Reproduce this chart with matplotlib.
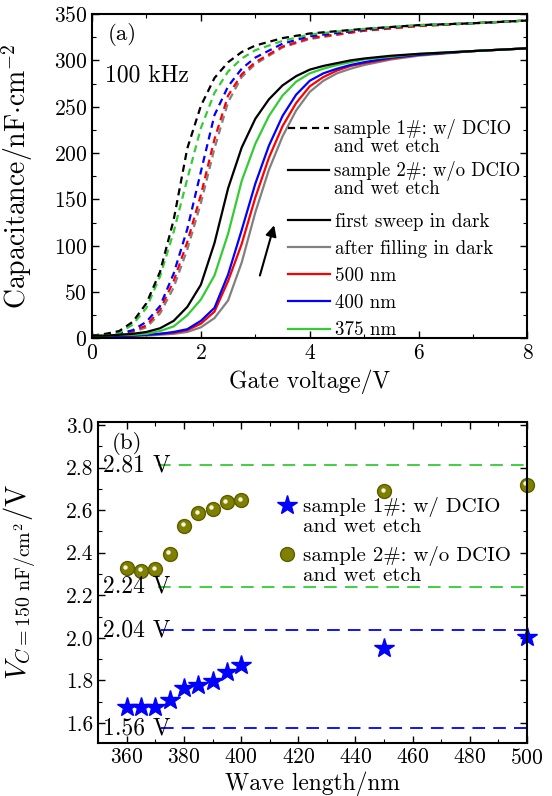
import matplotlib
matplotlib.use("Agg")
import matplotlib.pyplot as plt
import matplotlib.transforms as mtransforms
from matplotlib.lines import Line2D

plt.rcParams['font.family'] = ['cmr10', 'DejaVu Serif']
plt.rcParams['mathtext.fontset'] = 'cm'
plt.rcParams['axes.formatter.use_mathtext'] = True
plt.rcParams['axes.unicode_minus'] = False

# ---- panel (a): C-V curves at 100 kHz ----
v_dash = [0, 0.25, 0.5, 0.75, 1.0, 1.25, 1.5, 1.75, 2.0, 2.25, 2.5, 2.75, 3.0, 3.5, 4.0, 5.0, 6.0, 7.0, 8.0]
dark_d = [3, 5, 8, 18, 38, 72, 128, 205, 251, 281, 298, 309, 316, 324, 329, 334, 338, 340, 343]
nm375_d = [3, 4, 6, 15, 33, 67, 115, 172, 227, 265, 288, 302, 311, 321, 328, 334, 338, 340, 343]
nm400_d = [3, 4, 5, 9, 18, 35, 70, 118, 180, 241, 272, 291, 303, 318, 326, 333, 338, 340, 343]
nm500_d = [3, 4, 5, 8, 14, 31, 62, 104, 155, 215, 262, 285, 298, 315, 324, 332, 337, 340, 343]
fill_d = [3, 4, 5, 7, 12, 27, 55, 96, 146, 205, 255, 282, 296, 314, 323, 332, 337, 340, 343]

v_solid = [0, 0.25, 0.5, 0.75, 1.0, 1.25, 1.5, 1.75, 2.0, 2.25, 2.5, 2.75, 3.0, 3.25, 3.5,
           3.75, 4.0, 4.25, 4.5, 4.75, 5.0, 5.5, 6.0, 7.0, 8.0]
dark_s = [3, 3, 4, 5, 7, 11, 19, 34, 58, 103, 162, 206, 237, 258, 273,
          283, 290, 294, 297, 300, 302, 305, 307, 310, 313]
nm375_s = [3, 3, 4, 4, 5, 8, 13, 25, 42, 68, 113, 170, 210, 240, 262,
           277, 286, 291, 295, 298, 301, 304, 307, 310, 313]
nm400_s = [2, 2, 3, 3, 4, 5, 7, 10, 19, 33, 69, 117, 167, 208, 240,
           263, 278, 286, 291, 295, 298, 303, 306, 310, 313]
nm500_s = [2, 2, 3, 3, 4, 5, 6, 9, 16, 29, 62, 102, 152, 195, 229,
           254, 272, 282, 289, 294, 297, 302, 306, 310, 313]
fill_s = [2, 2, 2, 3, 3, 4, 5, 7, 12, 22, 41, 82, 136, 182, 218,
          246, 266, 278, 286, 291, 295, 301, 305, 310, 313]

# ---- panel (b): V at C = 150 nF/cm2 vs wavelength ----
wl = [360, 365, 370, 375, 380, 385, 390, 395, 400, 450, 500]
v_s1 = [1.677, 1.677, 1.677, 1.708, 1.763, 1.778, 1.799, 1.841, 1.872, 1.951, 2.002]
v_s2 = [2.328, 2.316, 2.322, 2.396, 2.527, 2.586, 2.607, 2.638, 2.646, 2.688, 2.719]
ref_green = [2.81, 2.24]
ref_blue = [2.035, 1.575]
ref_labels_green = ["2.81 V", "2.24 V"]
ref_labels_blue = ["2.04 V", "1.56 V"]

fig = plt.figure(figsize=(5.52, 7.96), dpi=100)
ax1 = fig.add_axes([0.1667, 0.5748, 0.7889, 0.4076])
ax2 = fig.add_axes([0.178, 0.067, 0.7767, 0.4032])

red = '#ff0000'
blue = '#0000ff'
green = '#33cc33'
gray = '#808080'
dash = (0, (3.2, 2.2))

ax1.plot(v_dash, fill_d, color=gray, lw=1.6, ls=dash)
ax1.plot(v_dash, nm500_d, color=red, lw=1.6, ls=dash)
ax1.plot(v_dash, nm400_d, color=blue, lw=1.6, ls=dash)
ax1.plot(v_dash, nm375_d, color=green, lw=1.6, ls=dash)
ax1.plot(v_dash, dark_d, color='black', lw=1.6, ls=dash)

l_fill, = ax1.plot(v_solid, fill_s, color=gray, lw=1.6)
l_500, = ax1.plot(v_solid, nm500_s, color=red, lw=1.6)
l_400, = ax1.plot(v_solid, nm400_s, color=blue, lw=1.6)
l_375, = ax1.plot(v_solid, nm375_s, color=green, lw=1.6)
l_dark, = ax1.plot(v_solid, dark_s, color='black', lw=1.6)

ax1.annotate('', xy=(3.36, 125), xytext=(3.07, 65),
             arrowprops=dict(arrowstyle='-|>', color='black', lw=1.5, mutation_scale=16))

ax1.set_xlim(0, 8)
ax1.set_ylim(0, 350)
ax1.set_xticks([0, 2, 4, 6, 8])
ax1.set_xticks([1, 3, 5, 7], minor=True)
ax1.set_yticks(range(0, 351, 50))
ax1.set_yticks(range(25, 350, 50), minor=True)
ax1.set_xlabel('Gate voltage/V', fontsize=17, labelpad=5)
ax1.set_ylabel(r'Capacitance/nF$\cdot$cm$^{-2}$', fontsize=20)
ax1.yaxis.set_label_coords(-0.131, 0.5)
ax1.text(0.037, 0.972, '(a)', transform=ax1.transAxes, fontsize=16.5, va='top')
ax1.text(0.03, 0.845, '100 kHz', transform=ax1.transAxes, fontsize=17, va='top')

blank = Line2D([], [], color='none')
leg_kw = dict(loc='upper left', frameon=False, borderpad=0, borderaxespad=0)
leg_a = ax1.legend([Line2D([], [], color='black', lw=1.6, ls=dash), blank],
                   ['sample 1#: w/ DCIO', 'and wet etch'], bbox_to_anchor=(0.45, 0.675),
                   fontsize=13.5, handlelength=2.2, handletextpad=0.26, labelspacing=-0.05, **leg_kw)
ax1.add_artist(leg_a)
leg_b = ax1.legend([Line2D([], [], color='black', lw=1.6), blank],
                   ['sample 2#: w/o DCIO', 'and wet etch'], bbox_to_anchor=(0.45, 0.546),
                   fontsize=13.5, handlelength=2.2, handletextpad=0.26, labelspacing=-0.05, **leg_kw)
ax1.add_artist(leg_b)
ax1.legend([l_dark, l_fill, l_500, l_400, l_375],
           ['first sweep in dark', 'after filling in dark', '500 nm', '400 nm', '375 nm'],
           bbox_to_anchor=(0.45, 0.387), fontsize=13.7,
           handlelength=2.2, handletextpad=0.26, labelspacing=0.48, **leg_kw)

# panel (b)
ax2.hlines(ref_green, 371, 500, colors=green, lw=1.3, linestyles=[(0, (7, 4.5))])
ax2.hlines(ref_blue, 372, 500, colors=blue, lw=1.3, linestyles=[(0, (7, 4.5))])
for y, s in zip(ref_green + ref_blue, ref_labels_green + ref_labels_blue):
    ax2.text(351.5, y, s, fontsize=17, va='center', ha='left')

stars, = ax2.plot(wl, v_s1, ls='none', marker='*', color=blue, markersize=15, clip_on=False)
balls, = ax2.plot(wl, v_s2, ls='none', marker='o', color='#808000', mec='#5c5c00',
                  markersize=10, clip_on=False)
shine = mtransforms.offset_copy(ax2.transData, fig=fig, x=-1.5, y=1.5, units='dots')
ax2.plot(wl, v_s2, ls='none', marker='o', color='#f4f4e0', markersize=3.2, mew=0,
         transform=shine, clip_on=False)

leg_d = ax2.legend([stars, blank], ['sample 1#: w/ DCIO', 'and wet etch'],
                   bbox_to_anchor=(0.415, 0.764), fontsize=15, handlelength=1.0,
                   handletextpad=0.3, labelspacing=0.0, **leg_kw)
ax2.add_artist(leg_d)
ax2.legend([balls, blank], ['sample 2#: w/o DCIO', 'and wet etch'],
           bbox_to_anchor=(0.415, 0.612), fontsize=15, handlelength=1.0,
           handletextpad=0.3, labelspacing=0.0, **leg_kw)

ax2.set_xlim(350, 500)
ax2.set_ylim(1.508, 3.015)
ax2.set_xticks(range(360, 501, 20))
ax2.set_xticks(range(350, 501, 10), minor=True)
ax2.set_yticks([1.6, 1.8, 2.0, 2.2, 2.4, 2.6, 2.8, 3.0])
ax2.set_yticks([1.7, 1.9, 2.1, 2.3, 2.5, 2.7, 2.9], minor=True)
ax2.set_yticklabels(['1.6', '1.8', '2.0', '2.2', '2.4', '2.6', '2.8', '3.0'])
ax2.set_xlabel('Wave length/nm', fontsize=17, labelpad=3)
ax2.set_ylabel(r'$V_{C=150\ \mathrm{nF/cm^2}}/\mathrm{V}$', fontsize=20.5)
ax2.yaxis.set_label_coords(-0.141, 0.5)
ax2.text(0.032, 0.968, '(b)', transform=ax2.transAxes, fontsize=16.5, va='top')

for ax in (ax1, ax2):
    ax.tick_params(which='both', direction='in', top=True, right=True, labelsize=15.5)
    ax.tick_params(which='major', length=5, width=1.0)
    ax.tick_params(which='minor', length=3, width=0.8)
    for sp in ax.spines.values():
        sp.set_linewidth(1.5)

fig.savefig('out.png', dpi=100)
